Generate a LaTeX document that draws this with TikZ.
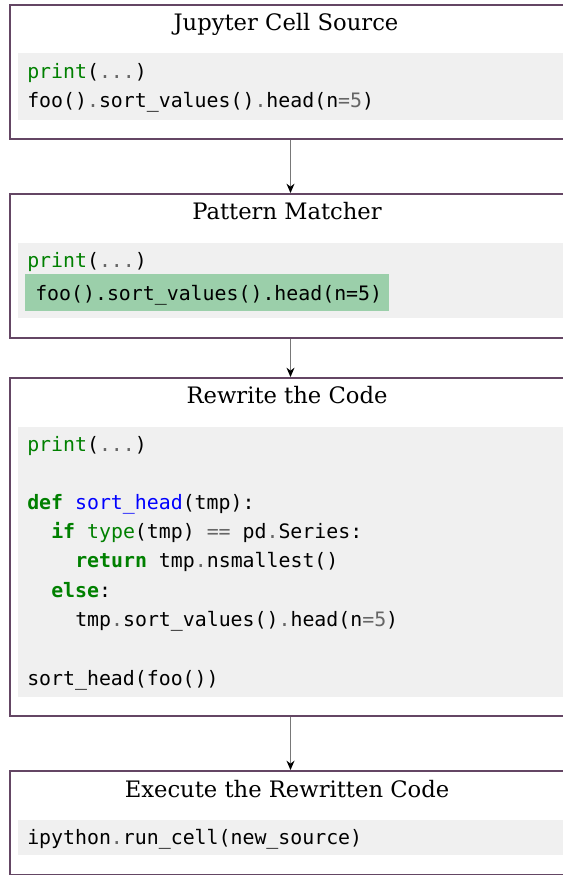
\documentclass[tikz,border=0pt]{standalone}
\usepackage{fontspec}
\setmainfont{DejaVu Serif}
\setmonofont{DejaVu Sans Mono}
\usetikzlibrary{arrows.meta}
\definecolor{frame}{RGB}{100,70,100}
\definecolor{codebg}{RGB}{240,240,240}
\definecolor{hl}{RGB}{155,207,170}
\definecolor{kw}{RGB}{0,128,0}
\definecolor{op}{RGB}{102,102,102}
\definecolor{fn}{RGB}{0,0,255}
\definecolor{conn}{RGB}{120,120,120}
\newcommand{\Kw}[1]{\textcolor{kw}{\bfseries #1}}
\newcommand{\Bi}[1]{\textcolor{kw}{#1}}
\newcommand{\Op}[1]{\textcolor{op}{#1}}
\newcommand{\Fn}[1]{\textcolor{fn}{#1}}
\tikzset{
  stagebox/.style={draw=frame, line width=1.5pt, fill=white, rectangle, inner sep=0pt},
  codebox/.style={fill=codebg, draw=none, rectangle, inner sep=0pt},
  hlbox/.style={fill=hl, draw=none, rectangle, inner sep=0pt},
  title/.style={anchor=base, font=\fontsize{17}{20}\selectfont, inner sep=0pt},
  code/.style={anchor=base west, font=\ttfamily\fontsize{14.9}{18}\selectfont, inner sep=0pt},
  flow/.style={draw=conn, line width=0.9pt, -{Stealth[length=7pt,width=6pt,color=black]}}
}
\begin{document}
\begin{tikzpicture}[x=0.75pt,y=-0.75pt]
\useasboundingbox (0,0) rectangle (563,875);
\clip (0,0) rectangle (563,875);
\coordinate (ax) at (290.5,0);
% Box 1
\node[stagebox, minimum width=620*0.75pt, minimum height=134*0.75pt, anchor=north west] (b1) at (9,4) {};
\node[codebox, minimum width=600*0.75pt, minimum height=67*0.75pt, anchor=north west] (g1) at (18,53) {};
\node[title] (t1) at (286,30) {Jupyter Cell Source};
\node[code] (c11) at (27,78) {\Bi{print}(\Op{...})};
\node[code] (c12) at (27,107) {foo()\Op{.}sort\_values()\Op{.}head(n\Op{=5})};
% Box 2
\node[stagebox, minimum width=620*0.75pt, minimum height=144*0.75pt, anchor=north west] (b2) at (9,193) {};
\node[codebox, minimum width=600*0.75pt, minimum height=75*0.75pt, anchor=north west] (g2) at (18,243) {};
\node[hlbox, minimum width=364*0.75pt, minimum height=37*0.75pt, anchor=north west] (h2) at (25,274) {};
\node[title] (t2) at (287,219) {Pattern Matcher};
\node[code] (c21) at (27,267) {\Bi{print}(\Op{...})};
\node[code] (c22) at (35,300) {foo().sort\_values().head(n=5)};
% Box 3
\node[stagebox, minimum width=620*0.75pt, minimum height=338*0.75pt, anchor=north west] (b3) at (9,377) {};
\node[codebox, minimum width=600*0.75pt, minimum height=270*0.75pt, anchor=north west] (g3) at (18,427) {};
\node[title] (t3) at (287,403) {Rewrite the Code};
\node[code] (c31) at (27,451) {\Bi{print}(\Op{...})};
\node[code] (c32) at (27,509) {\Kw{def} \Fn{sort\_head}(tmp):};
\node[code] (c33) at (51,538) {\Kw{if} \Bi{type}(tmp) \Op{==} pd\Op{.}Series:};
\node[code] (c34) at (75,567) {\Kw{return} tmp\Op{.}nsmallest()};
\node[code] (c35) at (51,597) {\Kw{else}:};
\node[code] (c36) at (75,626) {tmp\Op{.}sort\_values()\Op{.}head(n\Op{=5})};
\node[code] (c37) at (27,685) {sort\_head(foo())};
% Box 4
\node[stagebox, minimum width=620*0.75pt, minimum height=104*0.75pt, anchor=north west] (b4) at (9,770) {};
\node[codebox, minimum width=600*0.75pt, minimum height=35*0.75pt, anchor=north west] (g4) at (18,820) {};
\node[title] (t4) at (287,797) {Execute the Rewritten Code};
\node[code] (c41) at (27,844) {ipython\Op{.}run\_cell(new\_source)};
% connectors
\draw[flow] (b1.south -| ax) -- (b2.north -| ax);
\draw[flow] (b2.south -| ax) -- (b3.north -| ax);
\draw[flow] (b3.south -| ax) -- (b4.north -| ax);
\end{tikzpicture}
\end{document}
